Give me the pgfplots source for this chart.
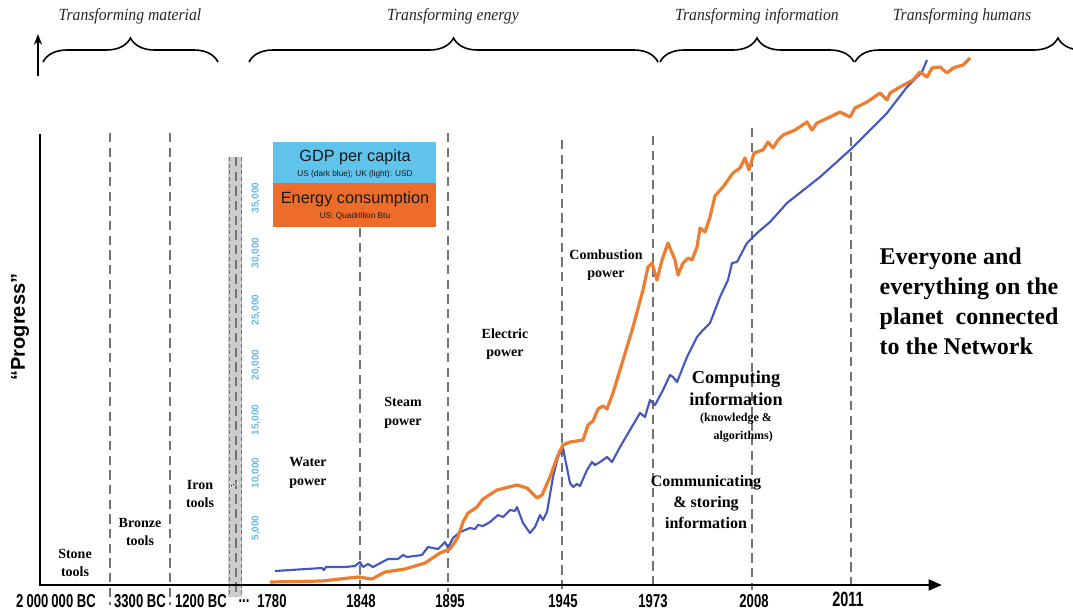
\documentclass[border=0pt]{standalone}
\usepackage{fontspec}
\setmainfont{Liberation Serif}
\newfontfamily\arialfont{Liberation Sans}
\newfontfamily\narrowfont[FakeStretch=0.7]{Liberation Sans}
\newfontfamily\italfont[FakeStretch=0.92]{Liberation Serif}
\usepackage{pgfplots}
\pgfplotsset{compat=1.18}
\usetikzlibrary{decorations.pathreplacing,arrows.meta}
\definecolor{curveorange}{RGB}{237,125,49}
\definecolor{curveblue}{RGB}{68,88,190}
\definecolor{legblue}{RGB}{95,195,235}
\definecolor{legorange}{RGB}{238,108,42}
\definecolor{tickblue}{RGB}{100,185,230}
\definecolor{dashgray}{RGB}{115,115,115}
\tikzset{brc/.style={line width=1.2pt, decorate, decoration={brace, amplitude=18pt}}}
\begin{document}
\begin{tikzpicture}
\begin{axis}[name=ax, scale only axis, width=804.75pt, height=458.25pt,
  xmin=0, xmax=1073, ymin=0, ymax=611, y dir=reverse, hide axis, clip=false]
% gray break bar
\fill[gray!40] (228,157) rectangle (242,597);
\draw[dashgray, line width=0.5pt, dash pattern=on 3pt off 2pt] (229,157) -- (229,597);
\draw[dashgray, line width=0.5pt, dash pattern=on 3pt off 2pt] (241,157) -- (241,597);
% dashed era lines
\begin{scope}[dashgray, line width=1.9pt, dash pattern=on 7pt off 4pt]
\draw (110,133) -- (110,605);
\draw (170,133) -- (170,605);
\draw (236,157) -- (236,597);
\draw (360,228) -- (360,592);
\draw (448,133) -- (448,592);
\draw (562,140) -- (562,592);
\draw (653,136) -- (653,590);
\draw (752,128) -- (752,590);
\draw (851,137) -- (851,592);
\end{scope}
\node[fill=white, inner sep=0.3pt, rotate=25, font=\arialfont\bfseries\fontsize{7}{7}\selectfont] at (234,485) {...};
% legend boxes
\fill[legblue] (273,142) rectangle (436,183);
\fill[legorange] (273,183) rectangle (436,227);
\node[font=\arialfont\fontsize{12.2}{12.2}\selectfont, text=black!90] at (355,157) {GDP per capita};
\node[font=\arialfont\fontsize{6.2}{6.2}\selectfont, text=black!90] at (355,174) {US (dark blue); UK (light): USD};
\node[font=\arialfont\fontsize{12.2}{12.2}\selectfont, text=black!90] at (355,199) {Energy consumption};
\node[font=\arialfont\fontsize{6.2}{6.2}\selectfont, text=black!90] at (355,216) {US: Quadrillion Btu};
% blue tick labels
\begin{scope}[font=\arialfont\bfseries\fontsize{7.5}{7.5}\selectfont, text=tickblue]
\node[rotate=90] at (256,198) {35,000};
\node[rotate=90] at (256,253) {30,000};
\node[rotate=90] at (256,310) {25,000};
\node[rotate=90] at (256,365) {20,000};
\node[rotate=90] at (256,420) {15,000};
\node[rotate=90] at (256,473) {10,000};
\node[rotate=90] at (256,528) {5,000};
\end{scope}
% curves
\addplot[curveblue, line width=1.6pt, line join=round] coordinates {
(275,571) (322,568) (324,570) (326,567) (345,567) (355,566) (360,562) (363,567)
(368,564) (373,567) (388,559) (398,559) (403,555) (407,557) (422,555) (428,547)
(438,549) (445,542) (448,548) (453,538) (460,532) (470,528) (475,529) (478,525)
(483,526) (490,522) (498,515) (503,517) (510,510) (515,511) (517,507) (523,523)
(530,533) (535,527) (540,515) (543,520) (547,512) (553,477) (558,457) (563,448)
(566,463) (570,483) (573,487) (577,484) (580,486) (587,470) (592,462) (595,465)
(600,462) (607,457) (612,462) (620,447) (630,430) (640,413) (645,417) (650,400)
(655,405) (663,390) (670,375) (673,377) (677,382) (687,357) (697,337) (703,330)
(710,323) (720,297) (728,280) (732,263) (737,262) (747,243) (757,233) (770,222)
(787,203) (820,177) (850,150) (887,113) (907,87) (922,72) (927,60)};
\addplot[curveorange, line width=2.4pt, line join=round] coordinates {
(270,582) (322,581) (358,577) (372,579) (385,572) (405,569) (425,563) (440,553)
(450,549) (458,537) (463,522) (468,513) (477,507) (483,499) (497,490) (517,485)
(527,488) (537,498) (542,495) (550,477) (558,455) (563,445) (570,442) (583,440)
(588,425) (593,421) (598,409) (603,406) (607,409) (613,393) (623,360) (633,327)
(643,290) (648,267) (652,263) (657,280) (662,260) (668,243) (675,260) (678,275)
(683,263) (688,258) (692,260) (697,247) (700,228) (705,232) (710,217) (715,196)
(723,187) (733,173) (740,168) (745,158) (749,170) (754,153) (763,150) (768,142)
(773,148) (778,140) (783,135) (795,130) (807,122) (812,130) (817,123) (830,117)
(840,112) (850,117) (855,108) (867,102) (880,93) (887,100) (890,93) (900,87)
(913,80) (920,72) (927,77) (932,68) (940,67) (947,73) (953,68) (963,65) (970,58)};
% axes
\draw[line width=1.5pt] (40,134) -- (40,586);
\draw[line width=1.3pt] (40,585) -- (800,585);
\draw[line width=2pt, -{Triangle[length=10pt,width=8pt]}] (798,585) -- (942,585);
\draw[line width=1.5pt, -{Stealth[length=8pt,width=6pt]}] (38,76) -- (38,34);
% braces
\draw[brc] (43,62) -- (218,62);
\draw[brc] (249,62) -- (658,62);
\draw[brc] (660,62) -- (854,62);
\draw[brc] (855,62) -- (1261,62);
\begin{scope}[font=\italfont\itshape\fontsize{12.8}{12.8}\selectfont, text=black!85]
\node at (130,16) {Transforming material};
\node at (453,16) {Transforming energy};
\node at (757,16) {Transforming information};
\node at (962,16) {Transforming humans};
\end{scope}
% x labels
\begin{scope}[font=\narrowfont\bfseries\fontsize{14}{14}\selectfont]
\node at (56,601) {2\,000\,000 BC};
\node at (140,601) {3300 BC};
\node at (201,601) {1200 BC};
\node at (244,601) {...};
\node at (272,601) {1780};
\node at (361,601) {1848};
\node at (450,601) {1895};
\node at (563,601) {1945};
\node at (653,601) {1973};
\node at (754,601) {2008};
\end{scope}
\node[font=\narrowfont\bfseries\fontsize{15.5}{15.5}\selectfont] at (848,599) {2011};
% y label
\node[rotate=90, font=\arialfont\bfseries\fontsize{15}{15}\selectfont] at (20,327) {“Progress”};
% era labels
\begin{scope}[align=center, font=\bfseries\fontsize{10.5}{14}\selectfont, text=black]
\node at (75,563) {Stone\\tools};
\node at (140,532) {Bronze\\tools};
\node at (200,494) {Iron\\tools};
\node at (308,473) {Water\\power};
\node at (403,413) {Steam\\power};
\node at (505,344) {Electric\\power};
\node at (606,265) {Combustion\\power};
\end{scope}
\node[align=center, font=\bfseries\fontsize{13.7}{16.5}\selectfont] at (736,388) {Computing\\information};
\node[align=center, font=\bfseries\fontsize{9}{13.5}\selectfont] at (736,428) {(knowledge \&\\\hspace*{1.2em}algorithms)};
\node[align=center, font=\bfseries\fontsize{12}{15.4}\selectfont] at (706,502) {Communicating\\\& storing\\information};
\node[align=left, anchor=north west, font=\bfseries\fontsize{18}{22.5}\selectfont] at (875,243) {Everyone and\\everything on the\\planet~ connected\\to the Network};
\end{axis}
\pgfresetboundingbox
\path (ax.south west) rectangle (ax.north east);
\end{tikzpicture}
\end{document}
